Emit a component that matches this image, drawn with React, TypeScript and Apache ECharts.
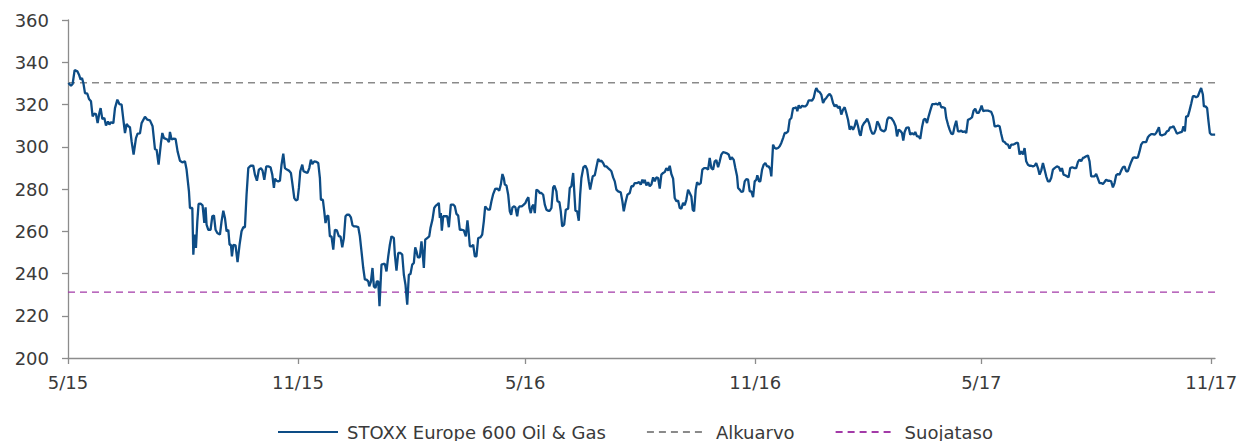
import React, { useEffect, useRef } from "react";
import * as echarts from "echarts";

// x values are days since 1 May 2015
const tickDays = [0, 184, 366, 550, 731, 915];
const tickLabels = ["5/15", "11/15", "5/16", "11/16", "5/17", "11/17"];
const lastDay = 918;

const yMin = 200;
const yMax = 360;
const yStep = 20;

const seriesNames = ["STOXX Europe 600 Oil & Gas", "Alkuarvo", "Suojataso"];
const alkuarvo = 330.3;
const suojataso = 231.2;

// [day, index level]
const stoxxPoints: [number, number][] = [
  [0.3,330.2],[2.4,328.9],[3.7,329.7],[5.3,336.3],[7.5,335.7],[8.8,334.1],[10.1,331.8],[11.2,332.5],[12.3,330.2],[13.6,325.4],[15.5,325.1],[16.8,322.6],[18.4,321.5],[19.7,314.4],[21.1,315.7],[22.4,315.5],[23.7,311.2],[25.1,316.0],[26.1,318.3],[27.5,313.1],[29.1,313.6],[30.4,310.0],[32.0,312.0],[33.1,310.5],[34.4,311.6],[36.3,311.2],[37.6,318.3],[39.5,322.3],[41.1,320.2],[42.9,319.9],[44.3,312.8],[45.6,306.5],[46.9,310.8],[48.3,309.7],[49.6,309.2],[50.9,302.6],[52.5,296.3],[54.4,304.1],[55.7,306.2],[57.6,306.3],[58.9,311.2],[61.6,314.2],[63.5,312.8],[65.6,312.5],[67.7,309.7],[69.6,298.9],[70.9,298.6],[72.5,291.5],[74.4,301.8],[75.5,306.5],[76.8,304.1],[78.4,303.7],[79.5,303.4],[80.8,302.2],[81.6,307.0],[82.9,303.4],[84.3,303.8],[86.1,303.7],[87.7,297.8],[89.6,293.4],[91.5,292.6],[93.6,293.1],[94.9,289.2],[96.8,278.9],[97.6,271.0],[99.5,271.0],[100.3,248.9],[101.3,258.4],[102.4,252.1],[103.5,264.7],[104.5,272.9],[106.1,273.1],[107.7,272.3],[109.1,263.9],[110.1,271.3],[110.9,263.1],[112.3,260.7],[114.1,260.7],[115.5,267.1],[116.8,267.5],[118.1,260.7],[119.5,259.2],[121.6,258.4],[122.9,264.7],[124.3,269.7],[125.6,266.3],[126.9,260.0],
  [128.3,260.7],[129.3,253.6],[130.4,253.6],[131.2,248.1],[132.3,253.6],[134.1,253.3],[135.7,245.4],[137.3,253.6],[138.9,260.0],[140.3,261.9],[141.6,261.9],[142.9,277.3],[144.3,289.9],[146.1,291.0],[148.3,291.0],[149.6,286.8],[151.2,283.9],[152.8,289.2],[154.4,289.9],[155.7,288.7],[157.1,284.4],[158.7,290.7],[160.3,290.7],[162.1,290.3],[163.5,286.8],[164.8,280.5],[165.6,284.9],[166.9,283.9],[168.3,283.6],[169.6,283.9],[170.9,291.5],[172.3,296.7],[173.6,289.9],[175.2,289.2],[176.8,288.7],[178.4,287.6],[179.7,282.1],[181.1,275.7],[182.4,274.6],[183.7,274.9],[184.8,280.5],[185.9,288.4],[187.5,291.5],[188.5,288.4],[190.1,288.0],[191.7,287.6],[193.1,289.9],[194.4,293.9],[195.5,291.8],[197.1,293.1],[198.9,292.8],[200.3,292.3],[201.6,285.2],[202.4,274.9],[204.0,274.9],[205.1,269.4],[206.1,263.9],[207.2,267.1],[208.3,267.4],[209.6,257.6],[210.9,257.6],[212.3,251.3],[213.6,260.7],[215.2,260.4],[216.8,257.6],[218.1,257.6],[219.5,252.4],[220.8,256.8],[222.1,267.1],[223.2,267.8],[225.1,267.8],[226.4,266.6],[227.7,262.8],[229.1,262.3],[230.4,262.3],[232.3,262.0],[233.6,257.6],[234.9,250.5],[236.3,242.6],[237.6,237.1],[238.9,237.1],[240.3,236.3],[241.1,233.9],[242.4,236.0],[243.7,242.6],[244.8,233.9],[246.1,233.1],[247.2,236.3],[248.3,236.3],[249.3,224.5],[250.9,244.2],[252.3,244.5],[253.6,244.5],[254.9,241.0],[256.3,248.1],[257.6,253.6],
  [258.9,257.6],[260.8,256.8],[261.6,248.9],[262.9,241.3],[264.3,249.7],[266.1,249.7],[267.5,248.9],[268.8,239.4],[270.1,234.7],[271.5,225.2],[272.8,239.4],[274.1,239.8],[275.5,244.2],[276.8,245.0],[277.9,252.4],[278.9,250.5],[280.0,247.7],[281.6,247.7],[282.9,255.2],[283.7,250.5],[284.8,242.6],[285.9,256.0],[287.5,256.8],[289.1,257.6],[290.1,261.5],[291.7,265.5],[293.1,271.0],[294.4,272.1],[295.5,272.6],[296.8,273.4],[297.6,266.3],[298.4,268.6],[299.2,260.3],[300.3,267.1],[301.9,267.1],[303.5,267.1],[304.8,261.9],[306.4,272.6],[308.3,272.6],[309.6,271.8],[310.9,268.2],[312.3,267.4],[313.6,260.7],[315.2,260.7],[316.8,260.4],[318.4,257.6],[319.7,265.2],[320.5,260.7],[321.6,252.9],[323.2,252.9],[324.3,253.6],[325.6,248.1],[326.9,248.1],[328.3,256.8],[330.1,257.1],[331.5,258.4],[332.8,264.7],[333.9,271.8],[334.9,271.0],[336.3,270.2],[337.6,270.2],[338.9,274.2],[340.3,277.6],[341.9,280.0],[343.5,280.2],[345.1,279.2],[346.4,282.1],[347.7,287.1],[348.8,285.2],[349.6,282.1],[350.9,281.7],[352.3,277.3],[353.6,269.4],[354.7,267.8],[355.7,271.3],[357.1,271.8],[358.1,271.3],[359.5,267.1],[360.5,271.0],[361.6,271.8],[363.2,271.8],[364.8,272.6],[366.1,273.4],[367.2,275.0],[368.5,276.1],[369.3,271.0],[370.4,268.6],[371.5,271.8],[372.5,272.6],[373.6,268.6],[374.9,279.7],[376.3,279.2],[377.6,278.1],[378.9,278.1],[380.3,277.3],[381.6,272.6],[382.9,270.2],[384.3,269.7],[385.6,269.7],[386.9,271.0],[388.3,280.8],[389.3,281.6],
  [390.9,278.9],[391.7,274.2],[393.3,273.8],[394.4,269.4],[395.5,262.3],[397.1,263.1],[398.4,270.2],[400.3,270.7],[401.6,280.5],[402.9,281.3],[404.3,287.6],[405.1,279.7],[406.1,269.7],[407.5,269.4],[408.8,265.0],[409.9,277.3],[410.9,285.2],[412.5,290.3],[414.1,291.0],[415.5,289.2],[416.8,283.6],[417.9,279.7],[418.9,282.8],[420.0,286.0],[421.6,286.5],[422.9,290.3],[424.3,294.2],[425.6,293.1],[426.9,293.4],[428.3,292.3],[429.6,290.7],[430.9,290.7],[432.3,289.9],[433.6,289.2],[434.9,288.4],[436.3,285.5],[437.6,283.6],[438.9,279.7],[440.3,278.9],[442.4,278.4],[443.7,274.2],[444.8,269.4],[446.1,273.4],[447.7,277.3],[449.6,278.1],[450.9,281.3],[452.3,281.3],[453.6,282.8],[455.5,282.8],[457.1,283.3],[458.4,282.1],[459.7,284.4],[460.8,282.8],[461.6,284.4],[462.9,281.7],[464.3,283.2],[465.6,281.3],[466.9,282.1],[468.3,285.5],[469.6,283.6],[470.9,285.5],[472.3,285.2],[473.6,280.2],[474.9,286.8],[476.3,287.6],[477.6,288.0],[478.9,289.9],[480.3,288.7],[481.6,291.0],[482.9,287.1],[484.3,284.9],[485.6,275.7],[486.9,274.2],[488.3,274.5],[489.6,271.0],[490.9,270.7],[492.3,273.4],[493.6,272.3],[494.9,275.0],[496.3,279.7],[497.6,278.1],[498.9,276.5],[500.0,270.2],[501.1,269.4],[502.4,279.7],[503.5,283.2],[504.8,282.1],[506.4,282.8],[507.7,289.2],[509.1,289.9],[510.9,289.9],[512.3,289.2],[513.6,294.7],[514.9,289.9],[516.3,289.2],[517.6,293.1],[518.9,293.7],[520.3,290.3],[521.6,293.1],[522.9,296.3],[524.3,297.5],
  [526.9,297.0],[528.8,296.3],[530.1,293.9],[531.2,295.0],[532.8,293.9],[534.1,289.9],[535.5,286.0],[536.3,280.5],[537.6,279.7],[538.9,278.6],[540.3,278.9],[541.6,283.6],[542.9,284.7],[544.3,284.4],[545.6,278.9],[546.9,278.9],[548.3,276.1],[549.6,283.6],[550.9,284.4],[551.7,286.5],[553.1,283.6],[554.1,283.6],[555.5,289.2],[556.8,291.5],[558.1,292.3],[559.5,290.7],[560.8,290.7],[562.1,289.2],[562.9,286.0],[564.3,301.0],[565.6,299.4],[566.9,299.1],[568.3,299.4],[569.6,300.2],[570.9,301.8],[572.3,304.1],[573.6,306.5],[574.9,306.5],[576.3,307.3],[577.6,312.8],[578.9,313.6],[580.3,318.3],[581.6,318.3],[582.9,318.7],[583.7,316.8],[584.8,319.6],[586.1,318.3],[587.5,319.4],[588.8,319.1],[590.1,319.1],[591.5,319.9],[592.8,322.0],[594.1,322.0],[595.5,321.8],[596.8,323.1],[598.1,326.5],[598.9,327.8],[600.3,326.2],[601.6,325.9],[602.9,324.7],[604.3,320.7],[605.6,322.3],[606.9,323.1],[608.3,324.3],[609.6,325.0],[610.9,323.9],[612.3,320.7],[613.6,319.1],[614.9,319.9],[616.3,318.3],[617.6,319.1],[618.9,315.2],[620.3,317.6],[621.6,318.7],[622.9,316.0],[624.3,312.8],[625.6,308.1],[626.9,309.7],[628.3,308.1],[629.6,309.7],[630.9,312.8],[632.3,309.7],[633.6,306.0],[634.4,305.2],[635.7,309.7],[637.1,311.2],[638.4,312.0],[639.7,313.3],[641.1,311.2],[642.4,308.1],[643.7,306.2],[645.1,306.2],[646.4,308.1],[647.7,312.0],[649.1,310.5],[650.4,308.1],[651.7,307.6],[653.1,307.3],[654.4,308.1],[655.7,312.8],
  [656.8,313.9],[658.9,313.6],[660.8,312.0],[662.4,309.7],[663.5,304.9],[664.8,308.1],[666.1,307.6],[667.5,306.5],[668.5,302.9],[669.6,307.0],[670.9,308.9],[672.8,309.2],[674.1,305.7],[675.5,306.5],[677.1,305.7],[678.1,307.0],[679.5,304.9],[680.8,304.9],[682.1,303.8],[683.5,309.2],[684.8,312.8],[686.1,313.3],[687.5,311.2],[688.8,314.4],[690.1,317.1],[691.7,320.2],[693.6,320.2],[694.9,320.4],[696.3,319.9],[697.6,321.0],[698.9,318.7],[700.3,318.7],[701.9,318.3],[702.9,313.6],[704.3,310.5],[705.6,308.1],[706.9,306.2],[708.3,306.0],[709.6,309.7],[710.9,312.3],[712.3,307.3],[713.6,307.3],[714.9,307.6],[716.3,307.0],[717.6,307.3],[718.9,306.5],[720.3,312.8],[721.6,313.1],[723.5,313.9],[724.8,317.1],[726.1,318.0],[727.5,316.0],[728.8,316.0],[730.1,317.6],[731.2,319.5],[732.5,316.8],[733.6,317.1],[734.9,317.1],[736.3,317.1],[737.6,316.8],[738.9,316.5],[740.3,314.4],[741.6,309.7],[742.9,309.7],[744.3,310.0],[745.6,309.7],[746.9,306.0],[748.3,302.6],[749.6,302.2],[750.9,301.3],[752.3,301.0],[753.6,299.1],[754.9,301.0],[756.3,301.0],[757.6,301.3],[758.9,301.8],[760.3,301.8],[761.6,296.3],[762.9,297.8],[764.3,296.3],[765.6,299.4],[766.9,293.1],[768.3,291.5],[769.6,291.0],[770.9,291.0],[772.3,290.7],[773.6,291.0],[774.9,292.3],[776.3,289.9],[777.6,286.8],[778.9,288.7],[780.3,292.3],[781.6,289.2],[782.9,286.0],[784.3,283.6],[785.6,283.6],[786.9,285.2],[788.3,289.2],
  [789.6,289.9],[791.5,290.7],[793.1,290.3],[794.4,288.4],[795.5,289.9],[796.8,286.8],[798.1,286.5],[799.5,286.0],[800.8,285.5],[802.1,289.9],[803.7,290.3],[805.6,289.9],[806.9,289.9],[808.3,292.8],[809.6,293.9],[810.9,293.1],[812.3,294.7],[813.6,295.0],[814.9,295.5],[816.3,295.9],[817.6,293.1],[818.9,286.0],[820.3,286.0],[821.6,286.0],[822.9,287.1],[824.3,284.9],[825.6,282.8],[826.9,282.8],[828.3,282.4],[829.6,283.3],[830.9,284.4],[832.3,283.9],[833.6,283.9],[834.9,283.6],[836.3,280.8],[837.6,282.8],[838.9,286.5],[840.3,287.1],[841.6,286.8],[842.9,288.7],[844.3,290.3],[845.6,290.7],[846.9,288.4],[848.3,288.4],[849.6,290.7],[850.9,292.8],[852.3,294.7],[853.6,295.0],[854.9,294.7],[856.3,295.0],[857.6,297.8],[858.9,301.0],[860.3,302.2],[861.6,302.2],[862.9,302.2],[864.3,304.5],[865.6,305.4],[866.9,306.0],[868.3,306.0],[869.6,305.7],[870.9,306.5],[872.3,308.1],[873.1,309.2],[874.1,305.7],[875.5,305.4],[876.8,305.7],[878.1,306.0],[879.5,307.3],[880.8,307.6],[882.1,309.2],[883.5,309.2],[884.8,309.7],[886.1,308.1],[887.5,306.2],[888.8,306.5],[890.1,306.8],[891.5,307.0],[892.8,309.7],[893.9,307.3],[894.9,314.4],[896.3,314.4],[897.6,317.1],[898.9,320.2],[900.3,323.9],[901.6,323.9],[902.9,323.4],[904.3,323.9],[905.6,325.9],[906.9,327.8],[908.3,324.7],[909.1,319.1],[910.4,319.1],[911.7,318.3],[912.8,312.0],[913.9,306.5],[915.2,305.7],[916.8,305.7],[918.1,305.7],
];

const FONT = "'DejaVu Sans', sans-serif";
const TEXT = "#3a3a3a";
const AXIS = "#8c8c8c";

export default function App() {
  const ref = useRef<HTMLDivElement>(null);

  useEffect(() => {
    if (!ref.current) return;
    const chart = echarts.init(ref.current, null, { renderer: "svg" });
    chart.setOption({
      animation: false,
      backgroundColor: "#ffffff",
      grid: { left: 68, right: 31, top: 20, bottom: 83, containLabel: false },
      legend: {
        data: seriesNames,
        left: 272,
        top: 418,
        itemWidth: 60,
        itemHeight: 14,
        itemGap: 40,
        itemStyle: { opacity: 0 },
        textStyle: { fontFamily: FONT, fontSize: 18, color: TEXT, padding: [0, 0, 0, 4] },
      },
      xAxis: {
        type: "value",
        min: 0,
        max: lastDay,
        axisLine: { show: true, lineStyle: { color: AXIS, width: 1.3 } },
        axisTick: { show: true, length: 6, customValues: tickDays, lineStyle: { color: AXIS, width: 1.3 } },
        axisLabel: {
          customValues: tickDays,
          formatter: (v: number) => {
            const i = tickDays.indexOf(Math.round(v));
            return i >= 0 ? tickLabels[i] : "";
          },
          fontFamily: FONT,
          fontSize: 18,
          color: TEXT,
          margin: 15,
        },
        splitLine: { show: false },
      },
      yAxis: {
        type: "value",
        min: yMin,
        max: yMax,
        interval: yStep,
        axisLine: { show: true, lineStyle: { color: AXIS, width: 1.3 } },
        axisTick: { show: true, length: 6, lineStyle: { color: AXIS, width: 1.3 } },
        axisLabel: { fontFamily: FONT, fontSize: 18, color: TEXT, margin: 19 },
        splitLine: { show: false },
      },
      series: [
        {
          name: seriesNames[0],
          type: "line",
          data: stoxxPoints,
          symbol: "none",
          showSymbol: false,
          z: 5,
          lineStyle: { color: "#0D4C85", width: 2.3 },
          itemStyle: { color: "#0D4C85" },
        },
        {
          name: seriesNames[1],
          type: "line",
          data: [[0, alkuarvo], [lastDay, alkuarvo]],
          symbol: "none",
          showSymbol: false,
          z: 3,
          lineStyle: { color: "#8a8a8a", width: 1.3, type: [7, 5] },
          itemStyle: { color: "#8a8a8a" },
        },
        {
          name: seriesNames[2],
          type: "line",
          data: [[0, suojataso], [lastDay, suojataso]],
          symbol: "none",
          showSymbol: false,
          z: 3,
          lineStyle: { color: "#A33AA8", width: 1.3, type: [7, 5] },
          itemStyle: { color: "#A33AA8" },
        },
      ],
    });
    return () => chart.dispose();
  }, []);

  return (
    <div
      ref={ref}
      style={{ position: "fixed", left: 0, top: 0, width: 1246, height: 441 }}
    />
  );
}
